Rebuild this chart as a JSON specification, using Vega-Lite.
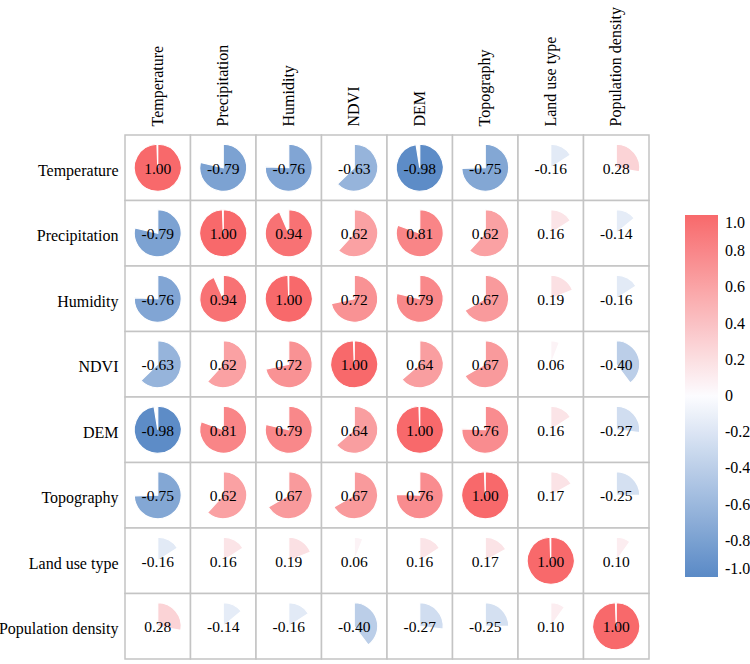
{
  "$schema": "https://vega.github.io/schema/vega-lite/v6.json",
  "width": 524,
  "height": 524,
  "autosize": {"type": "none"},
  "padding": {"left": 125, "top": 135, "right": 101, "bottom": 5},
  "background": "white",
  "config": {"view": {"stroke": null}, "font": "Liberation Serif"},
  "data": {"values": [
    {"row": "Temperature", "col": "Temperature", "r": 1.00},
    {"row": "Temperature", "col": "Precipitation", "r": -0.79},
    {"row": "Temperature", "col": "Humidity", "r": -0.76},
    {"row": "Temperature", "col": "NDVI", "r": -0.63},
    {"row": "Temperature", "col": "DEM", "r": -0.98},
    {"row": "Temperature", "col": "Topography", "r": -0.75},
    {"row": "Temperature", "col": "Land use type", "r": -0.16},
    {"row": "Temperature", "col": "Population density", "r": 0.28},
    {"row": "Precipitation", "col": "Temperature", "r": -0.79},
    {"row": "Precipitation", "col": "Precipitation", "r": 1.00},
    {"row": "Precipitation", "col": "Humidity", "r": 0.94},
    {"row": "Precipitation", "col": "NDVI", "r": 0.62},
    {"row": "Precipitation", "col": "DEM", "r": 0.81},
    {"row": "Precipitation", "col": "Topography", "r": 0.62},
    {"row": "Precipitation", "col": "Land use type", "r": 0.16},
    {"row": "Precipitation", "col": "Population density", "r": -0.14},
    {"row": "Humidity", "col": "Temperature", "r": -0.76},
    {"row": "Humidity", "col": "Precipitation", "r": 0.94},
    {"row": "Humidity", "col": "Humidity", "r": 1.00},
    {"row": "Humidity", "col": "NDVI", "r": 0.72},
    {"row": "Humidity", "col": "DEM", "r": 0.79},
    {"row": "Humidity", "col": "Topography", "r": 0.67},
    {"row": "Humidity", "col": "Land use type", "r": 0.19},
    {"row": "Humidity", "col": "Population density", "r": -0.16},
    {"row": "NDVI", "col": "Temperature", "r": -0.63},
    {"row": "NDVI", "col": "Precipitation", "r": 0.62},
    {"row": "NDVI", "col": "Humidity", "r": 0.72},
    {"row": "NDVI", "col": "NDVI", "r": 1.00},
    {"row": "NDVI", "col": "DEM", "r": 0.64},
    {"row": "NDVI", "col": "Topography", "r": 0.67},
    {"row": "NDVI", "col": "Land use type", "r": 0.06},
    {"row": "NDVI", "col": "Population density", "r": -0.40},
    {"row": "DEM", "col": "Temperature", "r": -0.98},
    {"row": "DEM", "col": "Precipitation", "r": 0.81},
    {"row": "DEM", "col": "Humidity", "r": 0.79},
    {"row": "DEM", "col": "NDVI", "r": 0.64},
    {"row": "DEM", "col": "DEM", "r": 1.00},
    {"row": "DEM", "col": "Topography", "r": 0.76},
    {"row": "DEM", "col": "Land use type", "r": 0.16},
    {"row": "DEM", "col": "Population density", "r": -0.27},
    {"row": "Topography", "col": "Temperature", "r": -0.75},
    {"row": "Topography", "col": "Precipitation", "r": 0.62},
    {"row": "Topography", "col": "Humidity", "r": 0.67},
    {"row": "Topography", "col": "NDVI", "r": 0.67},
    {"row": "Topography", "col": "DEM", "r": 0.76},
    {"row": "Topography", "col": "Topography", "r": 1.00},
    {"row": "Topography", "col": "Land use type", "r": 0.17},
    {"row": "Topography", "col": "Population density", "r": -0.25},
    {"row": "Land use type", "col": "Temperature", "r": -0.16},
    {"row": "Land use type", "col": "Precipitation", "r": 0.16},
    {"row": "Land use type", "col": "Humidity", "r": 0.19},
    {"row": "Land use type", "col": "NDVI", "r": 0.06},
    {"row": "Land use type", "col": "DEM", "r": 0.16},
    {"row": "Land use type", "col": "Topography", "r": 0.17},
    {"row": "Land use type", "col": "Land use type", "r": 1.00},
    {"row": "Land use type", "col": "Population density", "r": 0.10},
    {"row": "Population density", "col": "Temperature", "r": 0.28},
    {"row": "Population density", "col": "Precipitation", "r": -0.14},
    {"row": "Population density", "col": "Humidity", "r": -0.16},
    {"row": "Population density", "col": "NDVI", "r": -0.40},
    {"row": "Population density", "col": "DEM", "r": -0.27},
    {"row": "Population density", "col": "Topography", "r": -0.25},
    {"row": "Population density", "col": "Land use type", "r": 0.10},
    {"row": "Population density", "col": "Population density", "r": 1.00}
  ]},
  "transform": [
    {"calculate": "abs(datum.r)", "as": "a"},
    {"calculate": "replace(format(datum.r, '.2f'), '\u2212', '-')", "as": "lbl"}
  ],
  "encoding": {
    "x": {
      "field": "col", "type": "nominal",
      "sort": ["Temperature", "Precipitation", "Humidity", "NDVI", "DEM", "Topography", "Land use type", "Population density"],
      "scale": {"paddingInner": 0, "paddingOuter": 0},
      "axis": {"orient": "top", "title": null, "domain": false, "ticks": false, "labelAngle": -90, "labelAlign": "left", "labelBaseline": "middle", "labelPadding": 9, "labelFont": "Liberation Serif", "labelFontSize": 16, "labelColor": "#000000"}
    },
    "y": {
      "field": "row", "type": "nominal",
      "sort": ["Temperature", "Precipitation", "Humidity", "NDVI", "DEM", "Topography", "Land use type", "Population density"],
      "scale": {"paddingInner": 0, "paddingOuter": 0},
      "axis": {"title": null, "domain": false, "ticks": false, "labelPadding": 7, "labelOffset": 3, "labelFont": "Liberation Serif", "labelFontSize": 16, "labelColor": "#000000"}
    }
  },
  "layer": [
    {
      "mark": {"type": "rect", "fill": "white", "stroke": "#C4C4C4", "strokeWidth": 1.5}
    },
    {
      "mark": {"type": "arc", "outerRadius": 23.5, "stroke": "white", "strokeWidth": 1.2},
      "encoding": {
        "theta": {"field": "a", "type": "quantitative", "stack": false, "scale": {"domain": [0, 1], "range": [0, 6.25]}},
        "color": {
          "field": "r", "type": "quantitative",
          "scale": {"domain": [-1, 0, 1], "range": ["#5A8AC6", "#FCFCFF", "#F8696B"], "interpolate": "rgb"},
          "legend": {
            "orient": "none", "legendX": 560, "legendY": 80, "direction": "vertical",
            "title": null, "gradientLength": 362, "gradientThickness": 33, "gradientStrokeWidth": 0,
            "values": [-1, -0.8, -0.6, -0.4, -0.2, 0, 0.2, 0.4, 0.6, 0.8, 1],
            "labelExpr": "datum.value == 0 ? '0' : replace(format(datum.value, '.1f'), '\u2212', '-')",
            "labelFont": "Liberation Serif", "labelFontSize": 16, "labelColor": "#000000", "labelOffset": 7,
            "labelOverlap": false
          }
        }
      }
    },
    {
      "mark": {"type": "text", "font": "Liberation Serif", "fontSize": 15.5, "color": "#000000", "baseline": "middle", "dy": 1},
      "encoding": {"text": {"field": "lbl", "type": "nominal"}}
    }
  ]
}
